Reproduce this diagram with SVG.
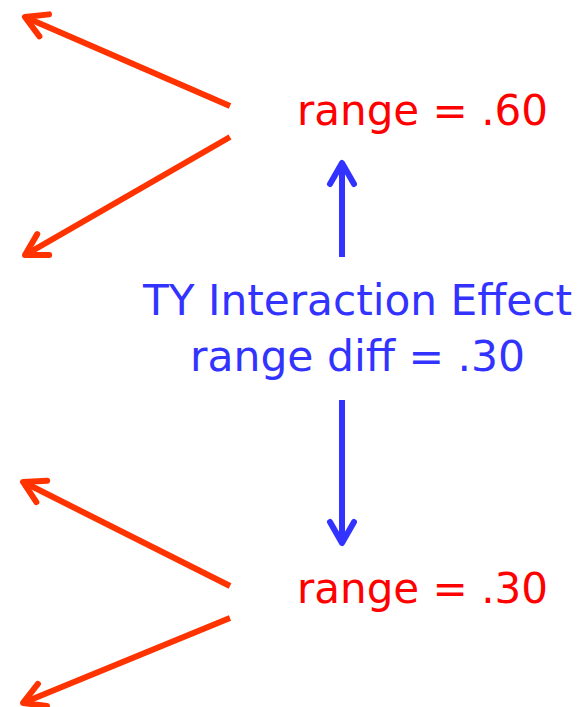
<svg xmlns="http://www.w3.org/2000/svg" width="579" height="707" viewBox="0 0 579 707">
<style>
.lbl{font-family:"DejaVu Sans Condensed","DejaVu Sans",sans-serif;font-size:43px}
.red{fill:#FF0000}
.blue{fill:#3333FF}
.ra{stroke:#FF3300;stroke-width:6;fill:none}
.ba{stroke:#3333FF;stroke-width:6;fill:none}
</style>
<defs>
<marker id="mr" markerUnits="userSpaceOnUse" viewBox="-30 -20 40 40" markerWidth="40" markerHeight="40" refX="-3" refY="0" orient="auto" overflow="visible">
<path d="M-21,-12 L0,0 L-21,12" fill="none" stroke="#FF3300" stroke-width="6" stroke-linecap="round" stroke-linejoin="round"/>
</marker>
<marker id="mb" markerUnits="userSpaceOnUse" viewBox="-30 -20 40 40" markerWidth="40" markerHeight="40" refX="-3" refY="0" orient="auto" overflow="visible">
<path d="M-21,-12 L0,0 L-21,12" fill="none" stroke="#3333FF" stroke-width="6" stroke-linecap="round" stroke-linejoin="round"/>
</marker>
</defs>
<rect width="579" height="707" fill="#FFFFFF"/>
<g id="connectors">
<line class="ra" x1="230" y1="106" x2="27.7" y2="18.2" marker-end="url(#mr)"/>
<line class="ra" x1="230" y1="137" x2="27.6" y2="253.5" marker-end="url(#mr)"/>
<line class="ra" x1="230" y1="586" x2="25.7" y2="483.3" marker-end="url(#mr)"/>
<line class="ra" x1="230" y1="618" x2="25.8" y2="701.8" marker-end="url(#mr)"/>
<line class="ba" x1="342" y1="257" x2="342" y2="166" marker-end="url(#mb)"/>
<line class="ba" x1="342" y1="400" x2="342" y2="540" marker-end="url(#mb)"/>
</g>
<g id="node-top"><text class="lbl red" x="297" y="125" textLength="251" lengthAdjust="spacingAndGlyphs">range = .60</text></g>
<g id="node-effect">
<text class="lbl blue" x="143" y="315" textLength="429" lengthAdjust="spacingAndGlyphs">TY Interaction Effect</text>
<text class="lbl blue" x="190" y="371" textLength="335" lengthAdjust="spacingAndGlyphs">range diff = .30</text>
</g>
<g id="node-bottom"><text class="lbl red" x="297" y="603" textLength="251" lengthAdjust="spacingAndGlyphs">range = .30</text></g>
</svg>
